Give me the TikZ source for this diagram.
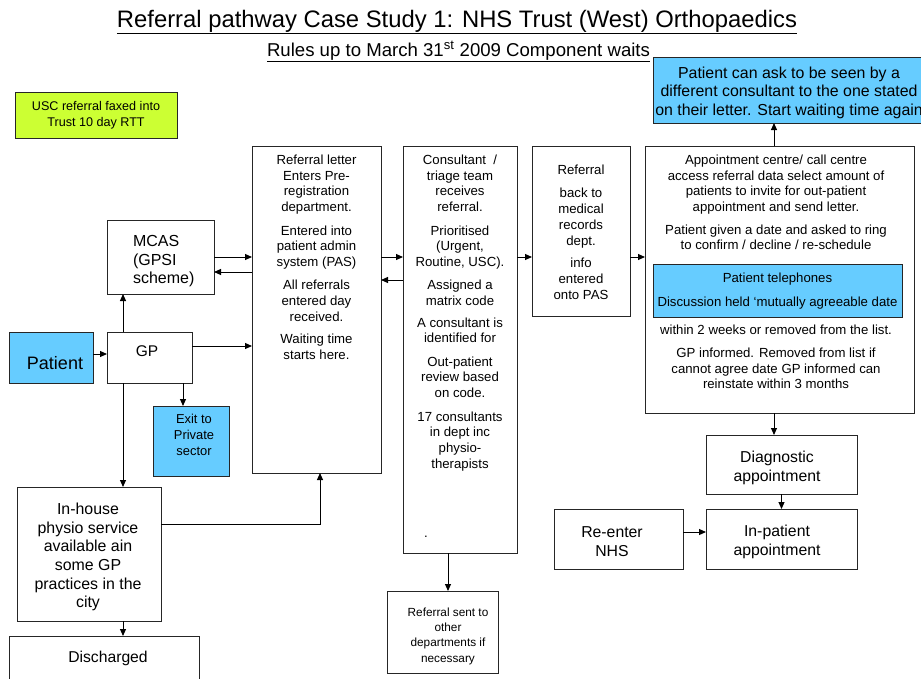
\documentclass[tikz,border=0pt]{standalone}
\usepackage{fontspec}
\setmainfont{Liberation Sans}
\usetikzlibrary{arrows.meta}
\definecolor{skyb}{RGB}{102,204,255}
\definecolor{limeg}{RGB}{204,255,51}
\newcommand{\setfs}[2]{\fontsize{#1}{#2}\selectfont}
\begin{document}
\begin{tikzpicture}[x=1pt,y=-1pt,
  box/.style={draw=black!85, line width=1pt, inner sep=0pt, outer sep=0pt, anchor=north west},
  sz/.style 2 args={minimum width=#1, minimum height=#2},
  arr/.style={-{Triangle[length=7pt,width=6pt]}, line width=1pt},
  txt/.style={align=center, inner sep=0pt, outer sep=0pt},
  fs/.style 2 args={font=\setfs{#1}{#2}}]
\useasboundingbox (0,0) rectangle (921,678);
\fill[white] (0,0) rectangle (921,678);

% titles
\node[txt, anchor=base] (title) at (457,27) {\resizebox{680pt}{!}{\setfs{24}{24}\underline{Referral pathway Case Study 1: NHS Trust (West) Orthopaedics}}};
\node[txt, anchor=base] (subtitle) at (458.5,56) {\resizebox{383pt}{!}{\setfs{18}{18}\underline{Rules up to March 31\textsuperscript{st} 2009 Component waits}}};

% boxes
\node[box, fill=limeg, sz={162pt}{46pt}] (usc) at (15,92) {};
\node[txt, fs={12.6}{16}] (usctxt) at (96,115) {USC referral faxed into\\Trust 10 day RTT};

\node[box, fill=skyb, sz={84pt}{51pt}] (patient) at (9,332) {};
\node[txt, fs={18}{20}] (pattxt) at (55,363) {Patient};

\node[box, sz={85pt}{51pt}] (gp) at (107,332) {};
\node[txt, fs={15.5}{18}] (gptxt) at (147,351) {GP};

\node[box, sz={107pt}{74pt}] (mcas) at (107,220) {};
\node[txt, align=left, anchor=west, fs={16}{18.5}] (mcastxt) at (133,261.5) {MCAS\\(GPSI\\scheme)};

\node[box, fill=skyb, sz={76pt}{70pt}] (exit) at (153,406) {};
\node[txt, fs={12.9}{16}] (exittxt) at (194,435) {Exit to\\Private\\sector};

\node[box, sz={144pt}{134pt}] (inhouse) at (17,487) {};
\node[txt, fs={15.9}{18.7}] (inhtxt) at (88,557) {In-house\\physio service\\available ain\\some GP\\practices in the\\city};

\node[box, sz={190pt}{50pt}] (disch) at (9,636) {};
\node[txt, fs={15.7}{18}] (dischtxt) at (108,658) {Discharged};

\node[box, sz={129pt}{327pt}] (ref) at (252,146) {};
\node[txt, fs={13.2}{15.8}] (reftxt) at (316.5,257) {Referral letter\\Enters Pre-\\registration\\department.\\[7.5pt]Entered into\\patient admin\\system (PAS)\\[7pt]All referrals\\entered day\\received.\\[6.5pt]Waiting time\\starts here.};

\node[box, sz={114pt}{407pt}] (cons) at (403,146) {};
\node[txt, fs={13.2}{15.8}] (constxt) at (460,313) {Consultant\ \ /\\triage team\\receives\\referral.\\[7.5pt]Prioritised\\(Urgent,\\Routine, USC).\\[7pt]Assigned a\\matrix code\\[6pt]A consultant is\\identified for\\[7.5pt]Out-patient\\review based\\on code.\\[7.5pt]17 consultants\\in dept inc\\physio-\\therapists};
\node[txt, fs={13.2}{15.8}] (constdot) at (426,537) {.};

\node[box, sz={98pt}{170pt}] (back) at (532,146) {};
\node[txt, fs={13.2}{15.8}] (backtxt) at (581,232.5) {Referral\\[7pt]back to\\medical\\records\\dept.\\[7pt]info\\entered\\onto PAS};

\node[box, sz={269pt}{267pt}] (appt) at (645,146) {};
\node[txt, fs={13.2}{15.4}] (appttxt) at (776,202.5) {Appointment centre/ call centre\\access referral data select amount of\\patients to invite for out-patient\\appointment and send letter.\\[7.5pt]Patient given a date and asked to ring\\to confirm / decline / re-schedule};
\node[box, fill=skyb, sz={249pt}{53pt}] (tel) at (653,264) {};
\node[txt, fs={13.2}{15.4}] (teltxt) at (777.5,291) {Patient telephones\\[8.5pt]Discussion held `mutually agreeable date};
\node[txt, fs={13.2}{15.4}] (appttxt2) at (776,357) {within 2 weeks or removed from the list.\\[7.5pt]GP informed. Removed from list if\\cannot agree date GP informed can\\reinstate within 3 months};

\node[box, fill=skyb, sz={272pt}{66pt}] (topblue) at (653,57) {};
\node[txt, fs={15.9}{18.5}] (topbluetxt) at (789,92.5) {Patient can ask to be seen by a\\different consultant to the one stated\\on their letter. Start waiting time again};

\node[box, sz={151pt}{59pt}] (diag) at (706,435) {};
\node[txt, fs={15.8}{19}] (diagtxt) at (777,467.5) {Diagnostic\\appointment};

\node[box, sz={151pt}{60pt}] (inpat) at (706,509) {};
\node[txt, fs={15.8}{19}] (inpattxt) at (777,541.5) {In-patient\\appointment};

\node[box, sz={129pt}{60pt}] (reenter) at (554,509) {};
\node[txt, fs={15.8}{19}] (reentertxt) at (612,541.5) {Re-enter\\NHS};

\node[box, sz={111pt}{82pt}] (sent) at (387,591) {};
\node[txt, fs={11.8}{15.3}] (senttxt) at (448,636) {Referral sent to\\other\\departments if\\necessary};

% helper coordinates
\coordinate (r1) at (0,257);
\coordinate (r3) at (0,280);
\coordinate (c1) at (448,0);
\coordinate (c2) at (774,0);

% connectors
\draw[arr] ([yshift=3.5pt]patient.east) -- ([yshift=3.5pt]patient.east -| gp.west);
\draw[arr] ([xshift=16pt]gp.north west) -- ([xshift=16pt]gp.north west |- mcas.south);
\draw[arr] (mcas.east) -- (mcas.east -| ref.west);
\draw[arr] ([yshift=-15pt]mcas.east -| ref.west) -- ([yshift=-15pt]mcas.east);
\draw[arr] ([yshift=11.5pt]gp.east) -- ([yshift=11.5pt]gp.east -| ref.west);
\draw[arr] ([xshift=76pt]gp.south west) -- ([xshift=76pt]gp.south west |- exit.north);
\draw[arr] ([xshift=16pt]gp.south west) -- ([xshift=16pt]gp.south west |- inhouse.north);
\draw[arr] ([yshift=30pt]inhouse.east) -| ([xshift=3.5pt]ref.south);
\draw[arr] ([xshift=106pt]inhouse.south west) -- ([xshift=106pt]inhouse.south west |- disch.north);
\draw[arr] (r1 -| ref.east) -- (r1 -| cons.west);
\draw[arr] (r3 -| cons.west) -- (r3 -| ref.east);
\draw[arr] (r1 -| cons.east) -- (r1 -| back.west);
\draw[arr] (r1 -| back.east) -- (r1 -| appt.west);
\draw[arr] (c1 |- cons.south) -- (c1 |- sent.north);
\draw[arr] (c2 |- appt.north) -- (c2 |- topblue.south);
\draw[arr] (c2 |- appt.south) -- (c2 |- diag.north);
\draw[arr] (diag.south) -- (inpat.north);
\draw[arr] ([yshift=7pt]reenter.east) -- ([yshift=7pt]reenter.east -| inpat.west);
\end{tikzpicture}
\end{document}
